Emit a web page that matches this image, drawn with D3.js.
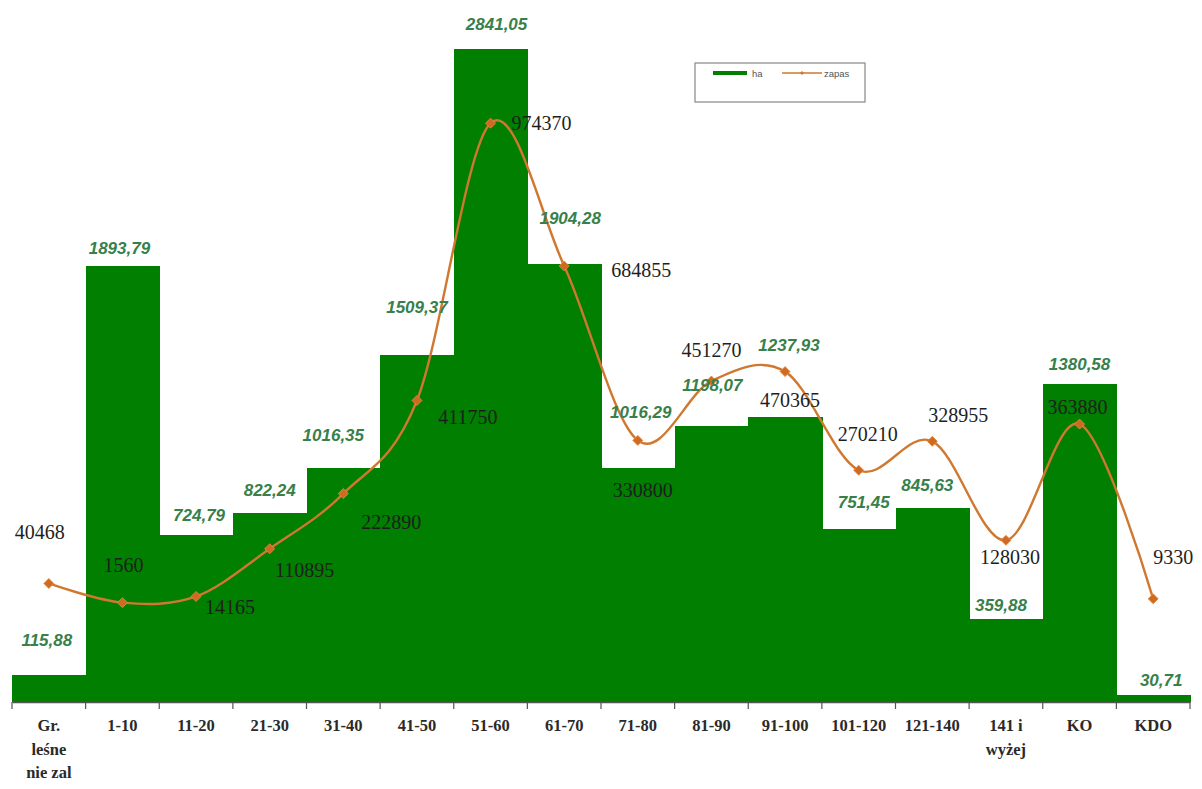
<!DOCTYPE html>
<html>
<head>
<meta charset="utf-8">
<script src="https://cdn.jsdelivr.net/npm/d3@7"></script>
<style>
  html, body { margin: 0; padding: 0; background: #fff; }
  svg { display: block; }
</style>
</head>
<body>
<svg id="chart" width="1202" height="789"></svg>
<script>
// ---- data ----
const categories = ["Gr.\nleśne\nnie zal", "1-10", "11-20", "21-30", "31-40", "41-50", "51-60", "61-70",
  "71-80", "81-90", "91-100", "101-120", "121-140", "141 i\nwyżej", "KO", "KDO"];
const haValues = [115.88, 1893.79, 724.79, 822.24, 1016.35, 1509.37, 2841.05, 1904.28,
  1016.29, 1198.07, 1237.93, 751.45, 845.63, 359.88, 1380.58, 30.71];
const zapasValues = [40468, 1560, 14165, 110895, 222890, 411750, 974370, 684855,
  330800, 451270, 470365, 270210, 328955, 128030, 363880, 9330];
const seriesNames = ["ha", "zapas"];

// label placement offsets (layout only)
const barLabelOffsets = [[-2,-35],[-3,-18],[3,-20],[0,-23],[-10,-33],[0,-48],[6,-25],[6,-46],
  [3,-56],[1,-41],[4,-72],[5,-27],[-5,-22],[-5,-14],[0,-20],[8,-15]];
const lineLabelOffsets = [[-9,-51],[1,-38],[34,11],[35,21],[48,28],[51,17],[51,0],[77,4],
  [5,50],[0,-31],[5,28],[9,-36],[26,-26],[4,17],[-2,-17],[20,-42]];

const fmtComma = d => d.toFixed(2).replace(".", ",");

// ---- layout ----
const svg = d3.select("#chart");
const plot = { left: 12, right: 1190, top: 12, bottom: 702 };

const x = d3.scaleBand().domain(categories).range([plot.left, plot.right]).padding(0);
const yBar = d3.scaleLinear().domain([0, 3000]).range([plot.bottom, plot.top]);
const yLine = d3.scaleLinear().domain([-200000, 1200000]).range([plot.bottom, plot.top]);

const barColor = "#007f00";
const lineColor = "#d0782f";
const barLabelColor = "#37804a";

svg.append("rect").attr("width", 1202).attr("height", 789).attr("fill", "#fff");

// bars
svg.append("g").attr("shape-rendering", "crispEdges")
  .selectAll("rect").data(haValues).join("rect")
  .attr("x", (d, i) => Math.round(x(categories[i])))
  .attr("width", (d, i) => Math.round(x(categories[i]) + x.bandwidth()) - Math.round(x(categories[i])) + 1)
  .attr("y", d => Math.round(yBar(d)))
  .attr("height", d => plot.bottom - Math.round(yBar(d)))
  .attr("fill", barColor);

// axis
const axis = d3.axisBottom(x).tickSize(0).tickFormat("");
const gAxis = svg.append("g").attr("transform", `translate(0,${plot.bottom})`).call(axis);
gAxis.select(".domain").attr("stroke", "#555").attr("stroke-width", 1.5);
// tick marks at category boundaries
const boundaries = categories.map(c => x(c)).concat([plot.right]);
svg.append("g").selectAll("line").data(boundaries).join("line")
  .attr("x1", d => d).attr("x2", d => d)
  .attr("y1", plot.bottom).attr("y2", plot.bottom + 7)
  .attr("stroke", "#555").attr("stroke-width", 1.2);

// tick labels
const tl = svg.append("g").selectAll("text").data(categories).join("text")
  .attr("x", d => x(d) + x.bandwidth() / 2)
  .attr("y", 731)
  .attr("text-anchor", "middle")
  .attr("font-family", "'Liberation Serif', 'Times New Roman', serif")
  .attr("font-weight", "bold")
  .attr("font-size", 16.5)
  .attr("fill", "#2a2a2a");
tl.each(function(d) {
  const lines = d.split("\n");
  d3.select(this).selectAll("tspan").data(lines).join("tspan")
    .attr("x", x(d) + x.bandwidth() / 2)
    .attr("dy", (l, j) => j === 0 ? 0 : 23.5)
    .text(l => l);
});

// line
const pts = zapasValues.map((v, i) => [x(categories[i]) + x.bandwidth() / 2, yLine(v)]);
const lineGen = d3.line().curve(d3.curveCardinal.tension(0));
svg.append("path").attr("d", lineGen(pts))
  .attr("fill", "none").attr("stroke", lineColor).attr("stroke-width", 2.4);

// markers (square diamonds)
const sym = d3.symbol().type(d3.symbolSquare).size(50);
svg.append("g").selectAll("path").data(pts).join("path")
  .attr("transform", d => `translate(${d[0]},${d[1]}) rotate(45)`)
  .attr("d", sym)
  .attr("fill", "#d06a22").attr("stroke", "#e08a40").attr("stroke-width", 0.8);

// bar labels
svg.append("g").selectAll("text").data(haValues).join("text")
  .attr("x", (d, i) => x(categories[i]) + x.bandwidth() / 2 + barLabelOffsets[i][0])
  .attr("y", (d, i) => yBar(d) + barLabelOffsets[i][1])
  .attr("dy", "0.35em")
  .attr("text-anchor", "middle")
  .attr("font-family", "'Liberation Sans', Arial, sans-serif")
  .attr("font-weight", "bold").attr("font-style", "italic")
  .attr("font-size", 17)
  .attr("fill", barLabelColor)
  .text(d => fmtComma(d));

// line labels
svg.append("g").selectAll("text").data(zapasValues).join("text")
  .attr("x", (d, i) => pts[i][0] + lineLabelOffsets[i][0])
  .attr("y", (d, i) => pts[i][1] + lineLabelOffsets[i][1])
  .attr("dy", "0.35em")
  .attr("text-anchor", "middle")
  .attr("font-family", "'Liberation Serif', 'Times New Roman', serif")
  .attr("font-size", 20)
  .attr("fill", "#1e1e1e")
  .text(d => String(d));

// legend
const lg = svg.append("g");
lg.append("rect").attr("x", 695).attr("y", 63).attr("width", 170).attr("height", 39)
  .attr("fill", "#fff").attr("stroke", "#888").attr("stroke-width", 1.2);
lg.append("line").attr("x1", 713).attr("x2", 747).attr("y1", 73).attr("y2", 73)
  .attr("stroke", barColor).attr("stroke-width", 4);
lg.append("text").attr("x", 752).attr("y", 76.5).attr("font-family", "'Liberation Sans', Arial, sans-serif")
  .attr("font-size", 9.5).attr("fill", "#555").text(seriesNames[0]);
lg.append("line").attr("x1", 782).attr("x2", 822).attr("y1", 73).attr("y2", 73)
  .attr("stroke", lineColor).attr("stroke-width", 1.5);
lg.append("path").attr("transform", "translate(802,73) rotate(45)").attr("d", d3.symbol().type(d3.symbolSquare).size(8))
  .attr("fill", lineColor);
lg.append("text").attr("x", 824).attr("y", 76.5).attr("font-family", "'Liberation Sans', Arial, sans-serif")
  .attr("font-size", 9.5).attr("fill", "#555").text(seriesNames[1]);
</script>
</body>
</html>
